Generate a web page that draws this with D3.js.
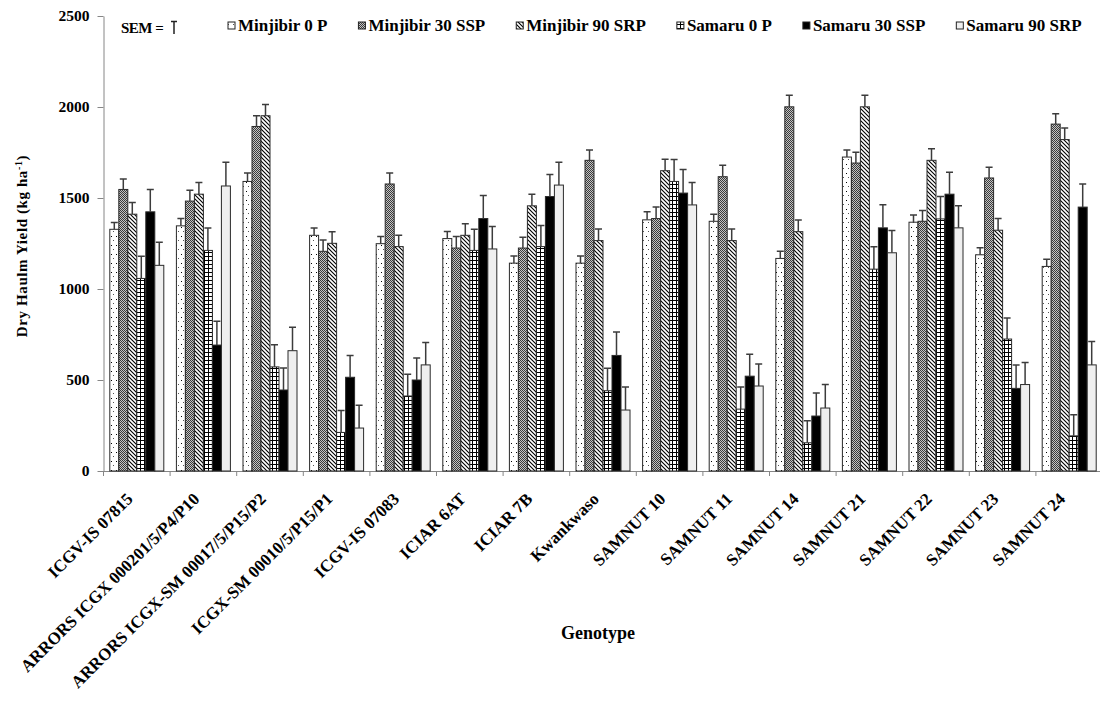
<!DOCTYPE html>
<html>
<head>
<meta charset="utf-8">
<script src="https://cdn.jsdelivr.net/npm/d3@7"></script>
<style>
  body { margin: 0; background: #fff; }
  svg text { font-family: "Liberation Serif", "Times New Roman", serif; font-weight: bold; fill: #000; }
</style>
</head>
<body>
<div id="viz"></div>
<script>
const genotypes = [
    "ICGV-IS 07815", "ARRORS ICGX 000201/5/P4/P10", "ARRORS ICGX-SM 00017/5/P15/P2",
    "ICGX-SM 00010/5/P15/P1", "ICGV-IS 07083", "ICIAR 6AT", "ICIAR 7B", "Kwankwaso",
    "SAMNUT 10", "SAMNUT 11", "SAMNUT 14", "SAMNUT 21", "SAMNUT 22", "SAMNUT 23", "SAMNUT 24"
];
const seriesNames = ["Minjibir 0 P", "Minjibir 30 SSP", "Minjibir 90 SRP", "Samaru 0 P", "Samaru 30 SSP", "Samaru 90 SRP"];

const minjibir0 = [1328, 1347, 1591, 1295, 1249, 1277, 1142, 1142, 1380, 1372, 1168, 1725, 1367, 1188, 1124];
const minjibir30 = [1547, 1483, 1893, 1207, 1577, 1225, 1225, 1707, 1387, 1617, 2001, 1692, 1372, 1610, 1906];
const minjibir90 = [1411, 1521, 1952, 1251, 1233, 1295, 1457, 1266, 1650, 1266, 1315, 2001, 1707, 1323, 1821];
const samaru0 = [1058, 1212, 572, 212, 412, 1212, 1233, 441, 1591, 340, 155, 1109, 1385, 725, 193];
const samaru30 = [1424, 692, 445, 515, 500, 1387, 1508, 635, 1527, 521, 302, 1336, 1521, 454, 1450];
const samaru90 = [1130, 1566, 661, 236, 583, 1220, 1571, 335, 1462, 467, 346, 1199, 1336, 475, 583];

// SEM (upper half of the error bar only)
const minjibir0Sem = [38, 40, 46, 40, 40, 39, 39, 39, 44, 39, 39, 39, 39, 39, 39];
const minjibir30Sem = [57, 59, 59, 62, 61, 64, 59, 57, 63, 63, 64, 59, 59, 59, 57];
const minjibir90Sem = [64, 64, 62, 64, 62, 64, 64, 63, 63, 63, 64, 64, 63, 64, 64];
const samaru0Sem = [122, 123, 121, 121, 120, 116, 116, 123, 121, 121, 121, 123, 123, 116, 116];
const samaru30Sem = [123, 131, 121, 120, 121, 127, 121, 129, 129, 121, 127, 127, 121, 129, 127];
const samaru90Sem = [127, 130, 129, 125, 123, 123, 125, 127, 123, 121, 129, 123, 121, 121, 129];

const yTicks = [0, 500, 1000, 1500, 2000, 2500];

const seriesValues = [minjibir0, minjibir30, minjibir90, samaru0, samaru30, samaru90];
const seriesSem = [minjibir0Sem, minjibir30Sem, minjibir90Sem, samaru0Sem, samaru30Sem, samaru90Sem];
const fills = ["url(#pat-dots)", "url(#pat-check)", "url(#pat-diag)", "url(#pat-grid)", "#000", "#efefef"];

const width = 1100, height = 705;

const svg = d3.select('#viz').append('svg')
    .attr('width', width)
    .attr('height', height);

// fill patterns
const defs = svg.append('defs');
let p = defs.append('pattern').attr('id', 'pat-dots').attr('patternUnits', 'userSpaceOnUse')
    .attr('width', 5).attr('height', 9);
p.append('rect').attr('width', 5).attr('height', 9).attr('fill', '#fff');
p.append('rect').attr('x', 1).attr('y', 2).attr('width', 1).attr('height', 1).attr('fill', '#000');
p.append('rect').attr('x', 3).attr('y', 6).attr('width', 1).attr('height', 1).attr('fill', '#555');

p = defs.append('pattern').attr('id', 'pat-check').attr('patternUnits', 'userSpaceOnUse')
    .attr('width', 2).attr('height', 2);
p.append('rect').attr('width', 2).attr('height', 2).attr('fill', '#c4c4c4');
p.append('rect').attr('x', 0).attr('y', 0).attr('width', 1).attr('height', 1).attr('fill', '#3a3a3a');
p.append('rect').attr('x', 1).attr('y', 1).attr('width', 1).attr('height', 1).attr('fill', '#3a3a3a');

p = defs.append('pattern').attr('id', 'pat-diag').attr('patternUnits', 'userSpaceOnUse')
    .attr('width', 4).attr('height', 4);
p.append('rect').attr('width', 4).attr('height', 4).attr('fill', '#fff');
p.append('path').attr('d', 'M-1,-1 L5,5 M-1,3 L1,5 M3,-1 L5,1')
    .attr('stroke', '#000').attr('stroke-width', 1.1);

p = defs.append('pattern').attr('id', 'pat-grid').attr('patternUnits', 'userSpaceOnUse')
    .attr('width', 4).attr('height', 4);
p.append('rect').attr('width', 4).attr('height', 4).attr('fill', '#fff');
p.append('path').attr('d', 'M0,0.5 H4 M0.5,0 V4')
    .attr('stroke', '#000').attr('stroke-width', 1);

// scales
const x0 = d3.scaleBand().domain(genotypes).range([103.5, 1102.5]).padding(0);
const x1 = d3.scaleBand().domain(seriesNames).range([0, x0.bandwidth()]).paddingInner(0).paddingOuter(0.7);
const y = d3.scaleLinear().domain([0, 2500]).range([471, 16]);

// axes
const yAxis = svg.append('g')
    .attr('transform', 'translate(103.5,0)')
    .call(d3.axisLeft(y).tickValues(yTicks).tickFormat(d3.format('d')).tickSize(6).tickPadding(8).tickSizeOuter(0));
yAxis.select('.domain').attr('stroke', '#868686');
yAxis.selectAll('.tick line').attr('stroke', '#868686');
yAxis.selectAll('.tick text').style('font-size', '15.5px');

const xAxis = svg.append('g')
    .attr('transform', 'translate(0,' + y(0) + ')')
    .call(d3.axisBottom(x0).tickSize(0).tickSizeOuter(0).tickFormat(''));
xAxis.select('.domain').attr('stroke', '#868686');
xAxis.selectAll('.bound')
    .data(genotypes.concat(['end']))
    .enter()
    .append('line')
    .attr('class', 'bound')
    .attr('x1', (d, i) => i < genotypes.length ? x0(d) : x0.range()[1])
    .attr('x2', (d, i) => i < genotypes.length ? x0(d) : x0.range()[1])
    .attr('y1', 0).attr('y2', 5)
    .attr('stroke', '#868686');

// rotated category labels
svg.append('g').selectAll('text')
    .data(genotypes)
    .enter()
    .append('text')
    .attr('text-anchor', 'end')
    .attr('transform', d => 'translate(' + (x0(d) + x0.bandwidth() / 2 - 3) + ',500) rotate(-45)')
    .style('font-size', '17px')
    .text(d => d);

// bars
const groups = svg.append('g').selectAll('g')
    .data(seriesNames)
    .enter()
    .append('g');

groups.selectAll('rect')
    .data((s, si) => genotypes.map((g, gi) => ({ g: g, s: s, si: si, v: seriesValues[si][gi], e: seriesSem[si][gi] })))
    .enter()
    .append('rect')
    .attr('x', d => x0(d.g) + x1(d.s))
    .attr('y', d => y(d.v))
    .attr('width', x1.bandwidth())
    .attr('height', d => y(0) - y(d.v))
    .attr('fill', d => fills[d.si])
    .attr('stroke', '#2a2a2a')
    .attr('stroke-width', 1);

// error bars (upper)
groups.selectAll('path.err')
    .data((s, si) => genotypes.map((g, gi) => ({ g: g, s: s, si: si, v: seriesValues[si][gi], e: seriesSem[si][gi] })))
    .enter()
    .append('path')
    .attr('class', 'err')
    .attr('d', d => {
        const cx = x0(d.g) + x1(d.s) + x1.bandwidth() / 2;
        const top = y(d.v + d.e);
        return 'M' + cx + ',' + y(d.v) + 'V' + top + 'M' + (cx - 3.5) + ',' + top + 'H' + (cx + 3.5);
    })
    .attr('stroke', '#3c3c3c')
    .attr('stroke-width', 1.5)
    .attr('fill', 'none');

// axis titles
const yTitle = svg.append('text')
    .attr('transform', 'translate(27,246) rotate(-90)')
    .attr('text-anchor', 'middle')
    .style('font-size', '15px')
    .style('letter-spacing', '0.6px');
yTitle.append('tspan').text('Dry Haulm Yield (kg ha');
yTitle.append('tspan').attr('baseline-shift', 'super').style('font-size', '10px').text('-1');
yTitle.append('tspan').text(')');

svg.append('text')
    .attr('x', 598)
    .attr('y', 639)
    .attr('text-anchor', 'middle')
    .style('font-size', '18px')
    .text('Genotype');

// SEM key
svg.append('text')
    .attr('x', 121)
    .attr('y', 33)
    .style('font-size', '15px')
    .style('letter-spacing', '-0.5px')
    .text('SEM =');
svg.append('path')
    .attr('d', 'M171,21.5 H177 M174,21.5 V34')
    .attr('stroke', '#222').attr('stroke-width', 1.5).attr('fill', 'none');

// legend
const legend = svg.append('g');
let lx = 228;
seriesNames.forEach((s, i) => {
    legend.append('rect')
        .attr('x', lx).attr('y', 22).attr('width', 7).attr('height', 7)
        .attr('fill', fills[i]).attr('stroke', '#222').attr('stroke-width', 1);
    const t = legend.append('text')
        .attr('x', lx + 10).attr('y', 31)
        .style('font-size', '17px')
        .text(s);
    lx += 10 + t.node().getComputedTextLength() + 31;
});
</script>
</body>
</html>
